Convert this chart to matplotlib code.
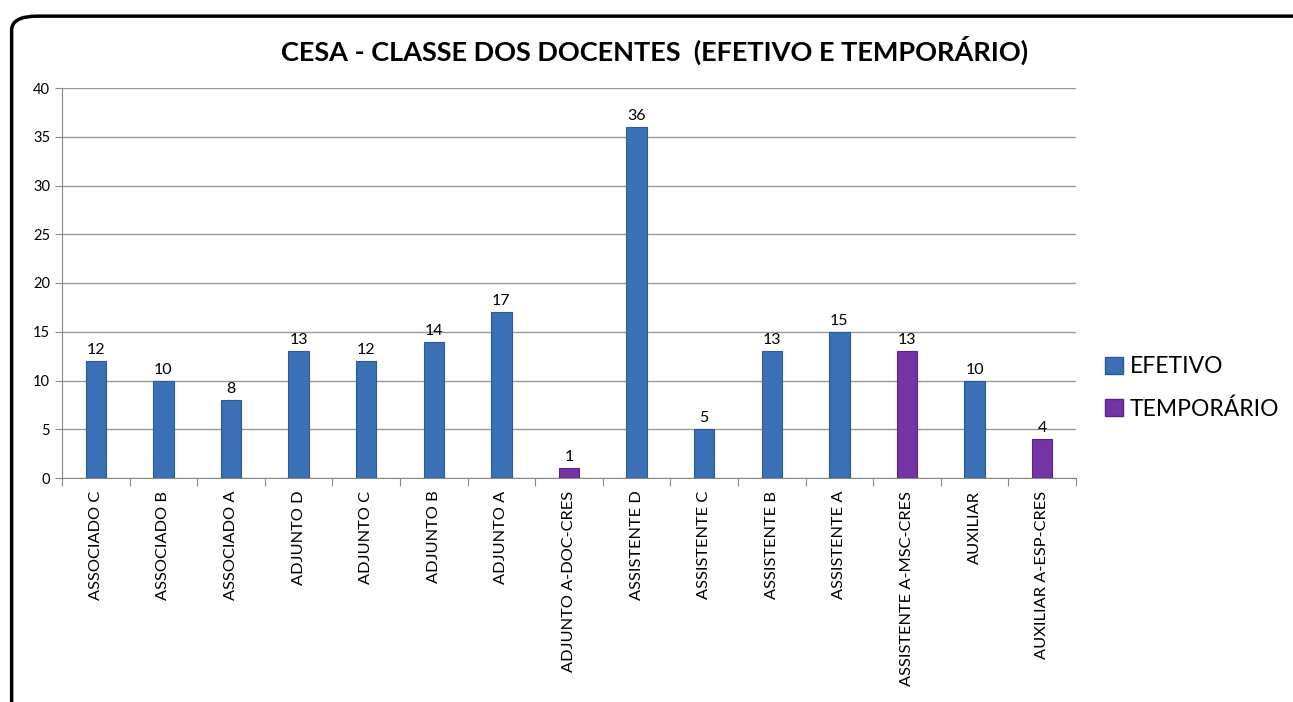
import numpy as np
import matplotlib.pyplot as plt
from matplotlib.patches import FancyBboxPatch, Patch

plt.rcParams['font.family'] = ['Lato', 'DejaVu Sans']

categories = ["ASSOCIADO C", "ASSOCIADO B", "ASSOCIADO A", "ADJUNTO D", "ADJUNTO C",
              "ADJUNTO B", "ADJUNTO A", "ADJUNTO A-DOC-CRES", "ASSISTENTE D", "ASSISTENTE C",
              "ASSISTENTE B", "ASSISTENTE A", "ASSISTENTE A-MSC-CRES", "AUXILIAR",
              "AUXILIAR A-ESP-CRES"]
efetivo = [12, 10, 8, 13, 12, 14, 17, 0, 36, 5, 13, 15, 0, 10, 0]
temporario = [0, 0, 0, 0, 0, 0, 0, 1, 0, 0, 0, 0, 13, 0, 4]

blue = "#3b6fb6"
purple = "#7434a6"

fig = plt.figure(figsize=(12.93, 7.02), dpi=100)
fig.patches.append(FancyBboxPatch((0.009, -0.05), 1.05, 1.027,
                                  boxstyle="round,pad=0,rounding_size=0.02",
                                  transform=fig.transFigure, fill=False,
                                  edgecolor="black", linewidth=2.5))

ax = fig.add_axes([62 / 1293, 1 - 478 / 702, (1076 - 62) / 1293, (478 - 88) / 702])
x = np.arange(len(categories))
w = 0.3
for i in x:
    if efetivo[i] > 0:
        ax.bar(i, efetivo[i], w, color=blue, edgecolor="#2a5a99", linewidth=0.8, zorder=3)
        ax.text(i, efetivo[i] + 0.4, str(efetivo[i]), ha="center", va="bottom", fontsize=11.5)
    if temporario[i] > 0:
        ax.bar(i, temporario[i], w, color=purple, edgecolor="#5a2385", linewidth=0.8, zorder=3)
        ax.text(i, temporario[i] + 0.4, str(temporario[i]), ha="center", va="bottom", fontsize=11.5)

ax.set_xlim(-0.5, len(categories) - 0.5)
ax.set_ylim(0, 40)
ax.set_yticks(range(0, 41, 5))
ax.tick_params(axis="y", labelsize=10.5, length=5, color="#888888")
ax.set_xticks(np.append(x - 0.5, len(categories) - 0.5))
ax.set_xticklabels([])
ax.tick_params(axis="x", length=6, color="#888888")
for i, c in enumerate(categories):
    ax.text(i, -1.3, c, rotation=90, ha="center", va="top", fontsize=11.8)
ax.yaxis.grid(True, color="#999999", linewidth=1, zorder=0)
for s in ["top", "right"]:
    ax.spines[s].set_visible(False)
ax.spines["left"].set_color("#888888")
ax.spines["bottom"].set_color("#888888")

fig.text(655 / 1293, 1 - 50 / 702, "CESA - CLASSE DOS DOCENTES  (EFETIVO E TEMPORÁRIO)",
         ha="center", va="center", fontsize=19.5, fontweight="bold")

handles = [Patch(facecolor=blue, edgecolor="#2a5a99"), Patch(facecolor=purple, edgecolor="#5a2385")]
fig.legend(handles, ["EFETIVO", "TEMPORÁRIO"], loc="center left",
           bbox_to_anchor=(1084 / 1293, 1 - 388 / 702), frameon=False, fontsize=16.5,
           handlelength=0.8, handleheight=0.8, handletextpad=0.3, labelspacing=0.9)

fig.savefig("out.png", dpi=100)
